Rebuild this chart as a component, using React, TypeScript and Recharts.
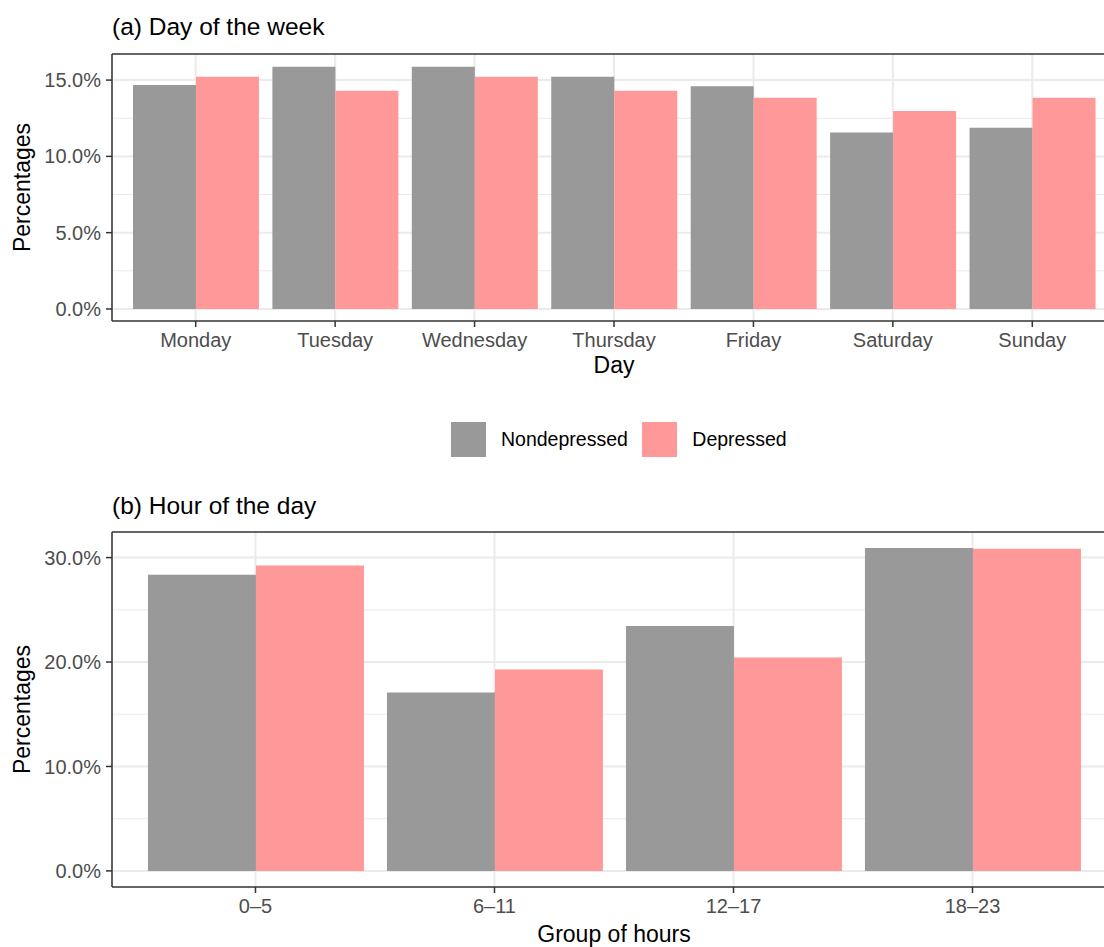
import React from "react";
import { BarChart, Bar, XAxis, YAxis, CartesianGrid, ReferenceLine } from "recharts";

const days = ["Monday", "Tuesday", "Wednesday", "Thursday", "Friday", "Saturday", "Sunday"];
const dayNondepressed = [14.67, 15.87, 15.87, 15.22, 14.59, 11.57, 11.87];
const dayDepressed = [15.22, 14.3, 15.22, 14.3, 13.85, 12.98, 13.85];

const hourGroups = ["0–5", "6–11", "12–17", "18–23"];
const hourNondepressed = [28.36, 17.08, 23.45, 30.91];
const hourDepressed = [29.25, 19.28, 20.43, 30.85];

const dayTicks = [0, 5, 10, 15];
const dayMinor = [2.5, 7.5, 12.5];
const hourTicks = [0, 10, 20, 30];
const hourMinor = [5, 15, 25];

const series = [
  { key: "nondepressed", name: "Nondepressed", color: "#999999" },
  { key: "depressed", name: "Depressed", color: "#FF9999" },
];

const dayData = days.map((cat, i) => ({ cat, nondepressed: dayNondepressed[i], depressed: dayDepressed[i] }));
const hourData = hourGroups.map((cat, i) => ({ cat, nondepressed: hourNondepressed[i], depressed: hourDepressed[i] }));

const FONT = '"Liberation Sans", Arial, Helvetica, sans-serif';
const frame = { stroke: "#333333", strokeWidth: 1.5 };
const pct = (v: number) => v.toFixed(1) + "%";

function YTitle(props: any) {
  const vb = props.viewBox || { x: 0, y: 0, height: 0 };
  const cx = vb.x + 30;
  const cy = vb.y + vb.height / 2;
  return (
    <text x={cx} y={cy} transform={`rotate(-90 ${cx} ${cy})`} textAnchor="middle" fontSize={23} fill="#000">
      Percentages
    </text>
  );
}

function Panel({ data, ticks, minor, domain, xTitle, height, top, plotH, pad, titleOffset }: any) {
  return (
    <BarChart
      width={1140}
      height={height}
      data={data}
      margin={{ top, right: 24, left: 0, bottom: 0 }}
      barGap={0}
      barCategoryGap="5%"
    >
      <CartesianGrid stroke="#EBEBEB" strokeWidth={1} horizontalValues={minor} vertical={false} />
      <CartesianGrid stroke="#EBEBEB" strokeWidth={2} horizontalValues={ticks} />
      <XAxis
        dataKey="cat"
        padding={{ left: pad, right: pad }}
        height={height - top - plotH}
        tickSize={6}
        tickMargin={6}
        tick={{ fill: "#4D4D4D", fontSize: 20 }}
        tickLine={frame}
        axisLine={frame}
        label={{ value: xTitle, position: "insideBottom", offset: titleOffset, fill: "#000", fontSize: 23 }}
      />
      <YAxis
        type="number"
        width={112}
        domain={domain}
        allowDataOverflow
        ticks={ticks}
        tickFormatter={pct}
        tickSize={6}
        tickMargin={5}
        tick={{ fill: "#4D4D4D", fontSize: 20 }}
        tickLine={frame}
        axisLine={frame}
        label={(p: any) => <YTitle {...p} />}
      />
      {series.map((s) => (
        <Bar key={s.key} dataKey={s.key} name={s.name} fill={s.color} isAnimationActive={false} />
      ))}
      <ReferenceLine y={domain[1]} stroke="#333333" strokeWidth={1.5} ifOverflow="visible" />
    </BarChart>
  );
}

export default function App() {
  return (
    <div style={{ position: "absolute", left: 0, top: 0, width: 1104, height: 947, overflow: "hidden", background: "#fff", fontFamily: FONT }}>
      <div style={{ position: "absolute", left: 0, top: 0 }}>
        <Panel data={dayData} ticks={dayTicks} minor={dayMinor} domain={[-0.79, 16.71]} xTitle="Day"
          height={381} top={54} plotH={267} pad={14} titleOffset={8} />
      </div>
      <div style={{ position: "absolute", left: 0, top: 480 }}>
        <Panel data={hourData} ticks={hourTicks} minor={hourMinor} domain={[-1.54, 32.45]} xTitle="Group of hours"
          height={469} top={52} plotH={355} pad={24} titleOffset={7} />
      </div>
      <svg width={1104} height={947} style={{ position: "absolute", left: 0, top: 0, pointerEvents: "none" }}>
        <text x={112} y={35} fontSize={24.5} fill="#000">(a) Day of the week</text>
        <text x={112} y={513.5} fontSize={24.5} fill="#000">(b) Hour of the day</text>
      </svg>
      <div style={{ position: "absolute", left: 451, top: 422, display: "flex", alignItems: "center", fontSize: 19.5, color: "#000" }}>
        {series.map((s, i) => (
          <div key={s.key} style={{ display: "flex", alignItems: "center", marginLeft: i ? 14.5 : 0 }}>
            <div style={{ width: 35, height: 35, background: s.color }} />
            <span style={{ marginLeft: 15, lineHeight: "35px" }}>{s.name}</span>
          </div>
        ))}
      </div>
    </div>
  );
}
